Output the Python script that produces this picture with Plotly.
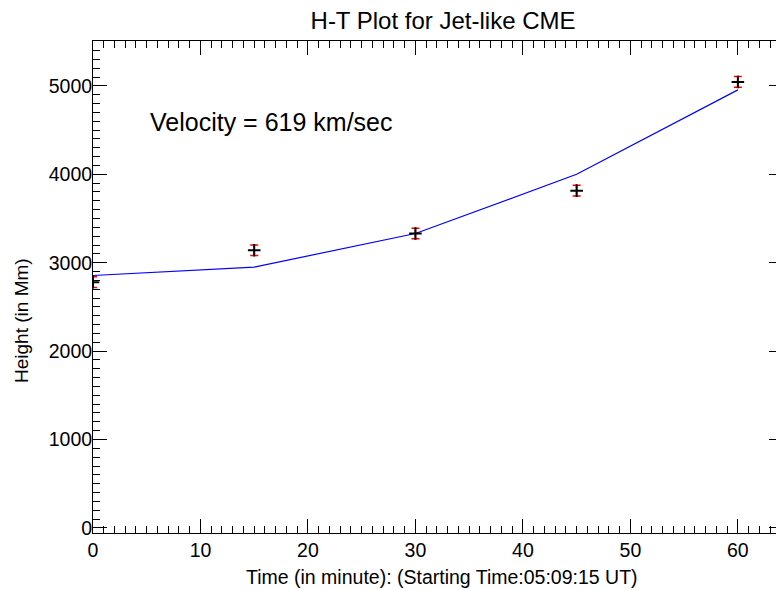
import plotly.graph_objects as go

# observed height-time points (minutes, Mm)
time_min = [0, 15, 30, 45, 60]
height_mm = [2780, 3140, 3330, 3815, 5045]
height_err = [60, 60, 60, 60, 60]

# fitted curve values at the same times
fit_height = [2855, 2950, 3330, 4000, 4955]

velocity_text = "Velocity = 619 km/sec"
x_tick_vals = [0, 10, 20, 30, 40, 50, 60]
y_tick_vals = [0, 1000, 2000, 3000, 4000, 5000]

font_name = "Liberation Sans, Arial, sans-serif"

fig = go.Figure()

# fit line
fig.add_trace(go.Scatter(
    x=time_min, y=fit_height, mode='lines',
    line=dict(color='#0000ff', width=1.2),
    showlegend=False, hoverinfo='skip'))

# red error bars (no visible marker)
fig.add_trace(go.Scatter(
    x=time_min, y=height_mm, mode='markers',
    marker=dict(size=1, color='rgba(0,0,0,0)'),
    error_y=dict(type='data', array=height_err, color='red', thickness=1.5, width=4),
    showlegend=False, hoverinfo='skip'))

# black plus symbols
fig.add_trace(go.Scatter(
    x=time_min, y=height_mm, mode='markers',
    marker=dict(symbol='cross-thin', size=9, line=dict(color='black', width=2)),
    showlegend=False))

fig.add_annotation(
    x=5.1, y=4593, xref='x', yref='y', text=velocity_text, showarrow=False,
    xanchor='left', yanchor='middle', font=dict(size=25, color='black', family=font_name))

# axis titles placed as annotations for exact positioning
fig.add_annotation(
    x=0.5058, y=-0.0894, xref='paper', yref='paper',
    text='Time (in minute): (Starting Time:05:09:15 UT)', showarrow=False,
    xanchor='center', yanchor='middle', font=dict(size=19.5, color='black', family=font_name))
fig.add_annotation(
    x=-0.1029, y=0.433, xref='paper', yref='paper', textangle=-90,
    text='Height (in Mm)', showarrow=False,
    xanchor='center', yanchor='middle', font=dict(size=19, color='black', family=font_name))

axis_common = dict(
    showgrid=False, zeroline=False, showline=True, linecolor='black', linewidth=1,
    mirror='ticks', ticks='inside', ticklen=14, tickcolor='black', tickwidth=1,
    tickfont=dict(size=19.5, color='black', family=font_name),
)

fig.update_xaxes(
    range=[0, 64.2], tickmode='array', tickvals=x_tick_vals,
    minor=dict(dtick=1, ticks='inside', ticklen=7, tickcolor='black', showgrid=False),
    **axis_common)

fig.update_yaxes(
    range=[-58, 5508], tickmode='array', tickvals=y_tick_vals,
    ticklabelstandoff=-4,
    minor=dict(dtick=100, tick0=0, ticks='inside', ticklen=7, tickcolor='black', showgrid=False),
    **axis_common)

# page body adds an 8px offset, so the figure is sized 8px smaller
fig.update_layout(
    width=776, height=582,
    margin=dict(l=85, r=1, t=33, b=57),
    paper_bgcolor='white', plot_bgcolor='white',
    title=dict(text='H-T Plot for Jet-like CME', x=0.5606, xanchor='center', y=0.979, yanchor='middle',
               font=dict(size=24, color='black', family=font_name)),
    font=dict(family=font_name, color='black'),
)

fig.write_html("out.html")
